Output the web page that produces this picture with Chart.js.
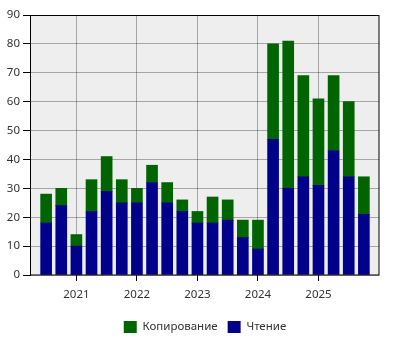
<!DOCTYPE html>
<html>
<head>
<meta charset="utf-8">
<script src="https://cdn.jsdelivr.net/npm/chart.js@4"></script>
<style>
  html, body { margin: 0; padding: 0; background: #fff; }
  #wrap { width: 400px; height: 350px; }
</style>
</head>
<body>
<div id="wrap"><canvas id="chart"></canvas></div>
<script>
// quarters, as decimal years
const quarters = [2020.5, 2020.75, 2021, 2021.25, 2021.5, 2021.75, 2022, 2022.25, 2022.5, 2022.75,
  2023, 2023.25, 2023.5, 2023.75, 2024, 2024.25, 2024.5, 2024.75, 2025, 2025.25, 2025.5, 2025.75];
const reading = [18, 24, 10, 22, 29, 25, 25, 32, 25, 22, 18, 18, 19, 13, 9, 47, 30, 34, 31, 43, 34, 21];
const copying = [10, 6, 4, 11, 12, 8, 5, 6, 7, 4, 4, 9, 7, 6, 10, 33, 51, 35, 30, 26, 26, 13];
const yearTicks = [2021, 2022, 2023, 2024, 2025];
const yTicks = [0, 10, 20, 30, 40, 50, 60, 70, 80, 90];

const toPoints = vals => vals.map((v, i) => ({ x: quarters[i], y: v }));

// plot background + black frame
const frame = {
  id: 'frame',
  beforeDraw(chart) {
    const a = chart.chartArea, ctx = chart.ctx;
    ctx.save();
    ctx.fillStyle = '#eeeeee';
    ctx.fillRect(a.left, a.top, a.right - a.left, a.bottom - a.top);
    ctx.restore();
  },
  afterDatasetsDraw(chart) {
    const a = chart.chartArea, ctx = chart.ctx;
    ctx.save();
    ctx.strokeStyle = '#000';
    ctx.lineWidth = 1;
    ctx.strokeRect(Math.round(a.left) - 0.5, Math.round(a.top) + 0.5,
      Math.round(a.right - a.left) + 0.5, Math.round(a.bottom - a.top) - 0.5);
    ctx.restore();
  }
};

Chart.defaults.font.family = '"Noto Sans", sans-serif';
Chart.defaults.font.size = 11.5;
Chart.defaults.color = '#333';

const ctx = document.getElementById('chart').getContext('2d');
const chart = new Chart(ctx, {
  type: 'bar',
  data: {
    datasets: [
      {
        label: 'Чтение',
        data: toPoints(reading),
        backgroundColor: '#00008b',
        barThickness: 11
      },
      {
        label: 'Копирование',
        data: toPoints(copying),
        backgroundColor: '#006400',
        barThickness: 11
      }
    ]
  },
  options: {
    responsive: true,
    maintainAspectRatio: false,
    animation: false,
    layout: {
      padding: { top: 15, right: 21, left: 0, bottom: 7 }
    },
    plugins: {
      legend: {
        position: 'bottom',
        fullSize: false,
        reverse: true,
        labels: {
          boxWidth: 13,
          boxHeight: 12,
          padding: 10
        }
      },
      tooltip: { enabled: false }
    },
    scales: {
      x: {
        type: 'linear',
        stacked: true,
        min: 2020.25,
        max: 2026,
        offset: false,
        afterBuildTicks: axis => { axis.ticks = yearTicks.map(v => ({ value: v })); },
        afterFit: axis => { axis.height = 36; },
        border: { display: false },
        grid: {
          offset: false,
          color: 'rgba(0,0,0,0.3)',
          tickColor: '#000',
          tickLength: 6
        },
        ticks: {
          padding: 7,
          maxRotation: 0,
          callback: v => String(v)
        }
      },
      y: {
        stacked: true,
        min: 0,
        max: 90,
        afterBuildTicks: axis => { axis.ticks = yTicks.map(v => ({ value: v })); },
        afterFit: axis => { axis.width = 31; },
        border: { display: false },
        grid: {
          color: 'rgba(0,0,0,0.3)',
          tickColor: '#000',
          tickLength: 8
        },
        ticks: {
          padding: 3
        }
      }
    }
  },
  plugins: [frame]
});
</script>
</body>
</html>
